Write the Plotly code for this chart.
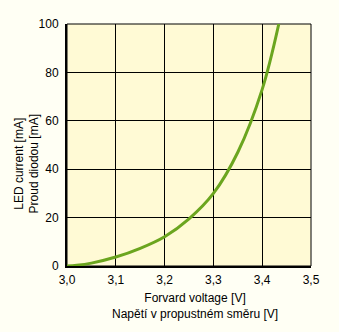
import plotly.graph_objects as go

voltage = [3.0, 3.02, 3.05, 3.1, 3.15, 3.2, 3.25, 3.3, 3.35, 3.4, 3.434]
current = [0, 0.3, 1.2, 3.7, 7.3, 12.1, 19.5, 30, 47, 73, 100]

x_ticks = [3.0, 3.1, 3.2, 3.3, 3.4, 3.5]
x_ticktext = ["3,0", "3,1", "3,2", "3,3", "3,4", "3,5"]
y_ticks = [0, 20, 40, 60, 80, 100]
y_ticktext = ["0", "20", "40", "60", "80", "100"]

font = dict(family="Liberation Sans, Arial, sans-serif", size=12, color="black")

fig = go.Figure()
fig.add_trace(go.Scatter(x=voltage, y=current, mode="lines",
                         line=dict(color="#6BA51F", width=3, shape="spline"),
                         hoverinfo="skip"))

fig.update_layout(
    width=339, height=332,
    margin=dict(l=67, r=28, t=24, b=66),
    paper_bgcolor="#FFFFF4",
    plot_bgcolor="#FFFAD5",
    showlegend=False,
    font=font,
    xaxis=dict(range=[3.0, 3.5], tickvals=x_ticks, ticktext=x_ticktext,
               showgrid=True, gridcolor="black", gridwidth=1,
               zeroline=False, showline=True, linecolor="black", linewidth=2,
               ticks="", ticklabelstandoff=2, fixedrange=True),
    yaxis=dict(range=[0, 100], tickvals=y_ticks, ticktext=y_ticktext,
               showgrid=True, gridcolor="black", gridwidth=1,
               zeroline=False, showline=True, linecolor="black", linewidth=2,
               ticks="", ticklabelstandoff=4, fixedrange=True),
    shapes=[dict(type="rect", xref="paper", yref="paper", x0=0, y0=0, x1=1, y1=1,
                 line=dict(color="black", width=1), layer="below")],
    annotations=[
        dict(text="Forvard voltage [V]<br>Napětí v propustném směru [V]",
             xref="paper", yref="paper", x=0.525, y=-0.095, xanchor="center", yanchor="top",
             showarrow=False, font=font),
        dict(text="LED current [mA]<br>Proud diodou [mA]", textangle=-90,
             xref="paper", yref="paper", x=-0.094, y=0.42, xanchor="right", yanchor="middle",
             showarrow=False, font=font),
    ],
)

fig.write_html("out.html")
